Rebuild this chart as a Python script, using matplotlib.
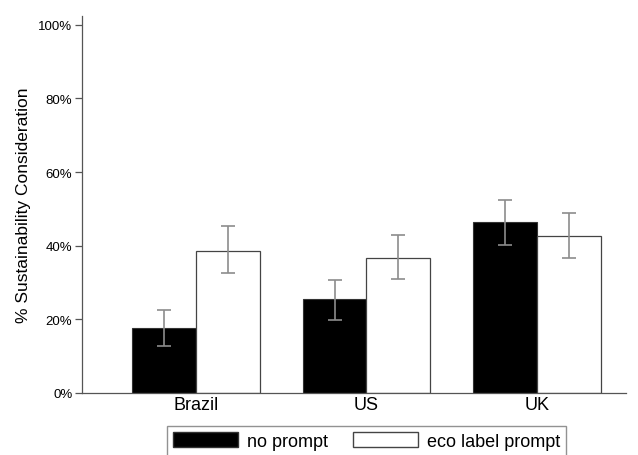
import numpy as np
import matplotlib.pyplot as plt
from matplotlib.patches import Patch

plt.rcParams['font.family'] = ['Liberation Sans', 'DejaVu Sans']

countries = ['Brazil', 'US', 'UK']
no_prompt = [17.7, 25.5, 46.5]
no_prompt_lo = [12.8, 19.8, 40.2]
no_prompt_hi = [22.6, 30.7, 52.4]
eco_prompt = [38.6, 36.7, 42.7]
eco_prompt_lo = [32.6, 31.0, 36.7]
eco_prompt_hi = [45.4, 42.9, 48.9]
yticks = [0, 20, 40, 60, 80, 100]

fig = plt.figure(figsize=(6.38, 4.56), dpi=100)
ax = fig.add_axes([0.1285, 0.136, 0.852, 0.827])

x = np.arange(len(countries))
w = 0.375
axis_grey = '#555555'
err_grey = '#8c8c8c'

ax.bar(x - w / 2, no_prompt, w, color='black', edgecolor='#333333', lw=0.8)
ax.bar(x + w / 2, eco_prompt, w, color='white', edgecolor='#444444', lw=0.9)

ax.errorbar(x - w / 2, no_prompt,
            yerr=[np.subtract(no_prompt, no_prompt_lo), np.subtract(no_prompt_hi, no_prompt)],
            fmt='none', ecolor=err_grey, elinewidth=1.2, capsize=5, capthick=1.2)
ax.errorbar(x + w / 2, eco_prompt,
            yerr=[np.subtract(eco_prompt, eco_prompt_lo), np.subtract(eco_prompt_hi, eco_prompt)],
            fmt='none', ecolor=err_grey, elinewidth=1.2, capsize=5, capthick=1.2)

ax.set_xlim(-0.669, 2.52)
ax.set_ylim(0, 102.4)
ax.set_xticks(x)
ax.set_xticklabels(countries, fontsize=13)
ax.tick_params(axis='x', length=0, pad=2)
ax.set_yticks(yticks)
ax.set_yticklabels([f'{v}%' for v in yticks], fontsize=9.5)
ax.tick_params(axis='y', length=5, color=axis_grey, width=0.9, pad=2)
ax.set_ylabel('% Sustainability Consideration', fontsize=12.5, labelpad=5)

for s in ['top', 'right']:
    ax.spines[s].set_visible(False)
for s in ['left', 'bottom']:
    ax.spines[s].set_color(axis_grey)
    ax.spines[s].set_linewidth(0.9)

handles = [Patch(facecolor='black', edgecolor='#333333', label='no prompt'),
           Patch(facecolor='white', edgecolor='#444444', label='eco label prompt')]
leg = fig.legend(handles=handles, loc='upper left', bbox_to_anchor=(0.2618, 0.0636),
                 ncol=2, frameon=True, fancybox=False, fontsize=13,
                 handlelength=3.6, handleheight=0.9, handletextpad=0.5,
                 columnspacing=1.35, borderpad=0.35, borderaxespad=0,
                 edgecolor='#777777')
leg.get_frame().set_linewidth(1.0)

fig.savefig('out.png', dpi=100)
